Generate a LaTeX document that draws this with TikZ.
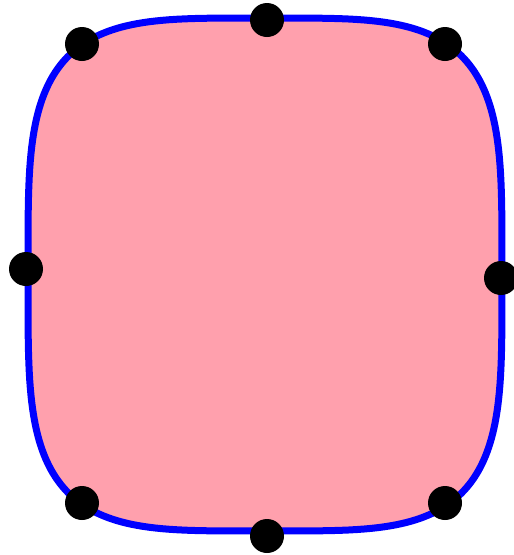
\documentclass[tikz,border=0pt]{standalone}
\usepackage{tikz}
\definecolor{shapefill}{RGB}{255,160,173}
\tikzset{
  dotnode/.style={circle,fill=black,minimum size=34pt,inner sep=0pt},
  outline/.style={draw=blue,line width=7pt,fill=shapefill}
}
\begin{document}
\begin{tikzpicture}[x=1pt,y=-1pt]
\useasboundingbox (0,0) rectangle (514,555);
\draw[outline] plot[domain=0:360,samples=240,variable=\t]
  ({265+237*sign(cos(\t))*sqrt(abs(cos(\t)))},{274.5+256.5*sign(sin(\t))*sqrt(abs(sin(\t)))}) -- cycle;
\node[dotnode] (top) at (267,20) {};
\node[dotnode] (tl) at (82,44) {};
\node[dotnode] (tr) at (445,44) {};
\node[dotnode] (left) at (26,269) {};
\node[dotnode] (right) at (501,278) {};
\node[dotnode] (bl) at (82,503) {};
\node[dotnode] (br) at (445,503) {};
\node[dotnode] (bottom) at (267,536) {};
\end{tikzpicture}
\end{document}
